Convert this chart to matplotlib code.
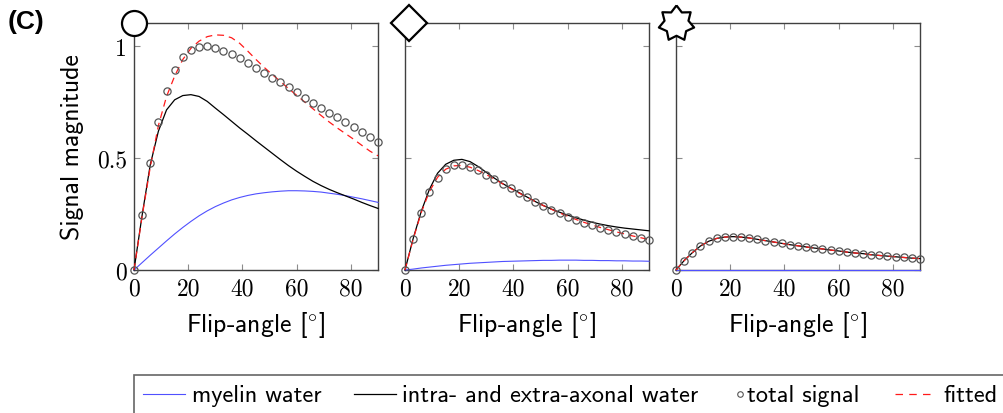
import matplotlib
matplotlib.use("Agg")
import matplotlib.pyplot as plt
from matplotlib.lines import Line2D
from matplotlib.patches import Rectangle
import numpy as np

plt.rcParams['mathtext.fontset'] = 'cm'

# ---------------- data ----------------
flip_angle = list(range(0, 91, 3))  # degrees, 31 samples
x_ticks = [0, 20, 40, 60, 80]
y_ticks = [0, 0.5, 1]
y_ticklabels = ['0', '0.5', '1']

# Panel 1 (circle)
p1_myelin = [0.000, 0.033, 0.066, 0.098, 0.130, 0.161, 0.190, 0.217, 0.242, 0.264,
             0.283, 0.299, 0.313, 0.324, 0.333, 0.340, 0.345, 0.349, 0.352, 0.354,
             0.354, 0.353, 0.351, 0.348, 0.343, 0.338, 0.332, 0.325, 0.318, 0.310, 0.302]
p1_axonal = [0.000, 0.245, 0.470, 0.620, 0.715, 0.760, 0.779, 0.783, 0.775, 0.753,
             0.723, 0.694, 0.664, 0.634, 0.606, 0.577, 0.549, 0.521, 0.493, 0.466,
             0.441, 0.418, 0.396, 0.377, 0.360, 0.345, 0.331, 0.317, 0.302, 0.288, 0.275]
p1_total = [0.000, 0.247, 0.476, 0.661, 0.798, 0.893, 0.949, 0.983, 0.997, 0.999,
            0.991, 0.979, 0.963, 0.945, 0.924, 0.903, 0.881, 0.859, 0.838, 0.815,
            0.793, 0.769, 0.747, 0.725, 0.702, 0.682, 0.659, 0.637, 0.615, 0.594, 0.571]
p1_fitted = [0.000, 0.240, 0.460, 0.645, 0.775, 0.866, 0.940, 0.990, 1.022, 1.042,
             1.050, 1.048, 1.037, 1.012, 0.977, 0.940, 0.905, 0.873, 0.842, 0.810,
             0.780, 0.750, 0.720, 0.690, 0.661, 0.634, 0.609, 0.584, 0.557, 0.531, 0.510]

# Panel 2 (diamond)
p2_myelin = [0.000, 0.004, 0.009, 0.013, 0.017, 0.021, 0.024, 0.027, 0.030, 0.032,
             0.034, 0.036, 0.038, 0.039, 0.040, 0.041, 0.042, 0.043, 0.043, 0.044,
             0.044, 0.044, 0.043, 0.043, 0.042, 0.042, 0.041, 0.041, 0.040, 0.040, 0.039]
p2_axonal = [0.000, 0.140, 0.262, 0.360, 0.432, 0.472, 0.490, 0.494, 0.484, 0.462,
             0.436, 0.410, 0.386, 0.366, 0.346, 0.326, 0.306, 0.288, 0.272, 0.258,
             0.245, 0.233, 0.223, 0.213, 0.205, 0.198, 0.192, 0.187, 0.183, 0.179, 0.175]
p2_total = [0.000, 0.137, 0.256, 0.349, 0.413, 0.450, 0.467, 0.470, 0.461, 0.446,
            0.426, 0.406, 0.385, 0.364, 0.343, 0.324, 0.305, 0.287, 0.270, 0.254,
            0.238, 0.223, 0.211, 0.199, 0.189, 0.178, 0.169, 0.160, 0.152, 0.143, 0.135]
p2_fitted = [0.000, 0.137, 0.257, 0.350, 0.414, 0.450, 0.465, 0.467, 0.459, 0.444,
             0.426, 0.406, 0.385, 0.364, 0.344, 0.325, 0.306, 0.288, 0.271, 0.255,
             0.240, 0.226, 0.213, 0.201, 0.190, 0.180, 0.170, 0.161, 0.152, 0.144, 0.136]

# Panel 3 (star)
p3_myelin = [0.0] * 31
p3_axonal = [0.000, 0.042, 0.077, 0.107, 0.128, 0.141, 0.147, 0.149, 0.147, 0.143,
             0.137, 0.131, 0.125, 0.119, 0.113, 0.108, 0.103, 0.098, 0.094, 0.089,
             0.085, 0.080, 0.076, 0.073, 0.068, 0.065, 0.062, 0.059, 0.056, 0.053, 0.051]
p3_total = [0.000, 0.042, 0.077, 0.107, 0.128, 0.141, 0.147, 0.149, 0.147, 0.143,
            0.137, 0.131, 0.125, 0.119, 0.113, 0.108, 0.103, 0.098, 0.094, 0.089,
            0.085, 0.080, 0.076, 0.073, 0.068, 0.065, 0.062, 0.059, 0.056, 0.053, 0.051]
p3_fitted = [0.000, 0.042, 0.077, 0.107, 0.128, 0.141, 0.147, 0.149, 0.147, 0.143,
             0.137, 0.131, 0.125, 0.119, 0.113, 0.108, 0.103, 0.098, 0.094, 0.089,
             0.085, 0.080, 0.076, 0.073, 0.068, 0.065, 0.062, 0.059, 0.056, 0.053, 0.051]

legend_labels = ['myelin water', 'intra- and extra-axonal water', 'total signal', 'fitted']
x_label = 'Flip-angle [$^{\\circ}$]'
y_label = 'Signal magnitude'
panel_tag = '(C)'

# ---------------- style ----------------
SANS = ['cmss10', 'DejaVu Sans']
SERIF = ['cmr10', 'DejaVu Serif']
BLUE = '#5050ff'
RED = '#ff1a1a'
MK_EDGE = '#555555'

# 7-pointed star marker with short points
_ang = np.pi / 2 + np.arange(14) * np.pi / 7
_rad = np.where(np.arange(14) % 2 == 0, 1.0, 0.68)
star7 = list(zip(_rad * np.cos(_ang), _rad * np.sin(_ang)))
star7.append(star7[0])

panels = [
    (p1_myelin, p1_axonal, p1_total, p1_fitted, 'o', 18.0, 0.0),
    (p2_myelin, p2_axonal, p2_total, p2_fitted, 'D', 18.5, 0.016),
    (p3_myelin, p3_axonal, p3_total, p3_fitted, star7, 26.0, 0.0),
]

W, H = 1004, 414
fig = plt.figure(figsize=(W / 100, H / 100), dpi=100)

def fx(px):
    return px / W

def fy(py):
    return 1 - py / H

lefts = [134, 405, 676]
ax_w, top_px, bot_px = 244, 24, 271

for i, (my, axw, tot, fit, mk, mks, mdx) in enumerate(panels):
    ax = fig.add_axes([fx(lefts[i]), fy(bot_px), ax_w / W, (bot_px - top_px) / H])
    ax.plot(flip_angle, my, color=BLUE, lw=0.8, clip_on=False, zorder=3)
    ax.plot(flip_angle, axw, color='black', lw=0.9, clip_on=False, zorder=3)
    ax.plot(flip_angle, fit, color=RED, lw=0.9, ls=(0, (5.5, 4)), clip_on=False, zorder=4)
    ax.plot(flip_angle, tot, ls='none', marker='o', ms=5.2, mfc='none', mec=MK_EDGE,
            mew=0.9, clip_on=False, zorder=5)
    ax.set_xlim(0, 90)
    ax.set_ylim(0, 1.103)
    ax.set_xticks(x_ticks)
    ax.set_yticks(y_ticks)
    ax.set_xticklabels([str(t) for t in x_ticks], fontfamily=SERIF, fontsize=17)
    if i == 0:
        ax.set_yticklabels(y_ticklabels, fontfamily=SERIF, fontsize=17)
        ax.set_ylabel(y_label, fontfamily=SANS, fontsize=18.5, labelpad=9)
    else:
        ax.set_yticklabels([])
    ax.set_xlabel(x_label, fontfamily=SANS, fontsize=18.5, labelpad=7)
    ax.tick_params(direction='in', top=True, right=True, length=4, width=0.8,
                   color='0.55', pad=5)
    for s in ax.spines.values():
        s.set_color('0.25')
        s.set_linewidth(1.0)
    # panel symbol at top-left corner
    ax.plot([mdx], [1.0], marker=mk, ms=mks, mfc='white', mec='black', mew=1.6,
            transform=ax.transAxes, clip_on=False, zorder=10)

fig.text(fx(8), fy(22), panel_tag, fontfamily=['Liberation Sans', 'DejaVu Sans'],
         fontweight='bold', fontsize=19, va='center', ha='left')

# ---------------- legend (one row, laid out like the pgfplots legend) ----------------
fig.add_artist(Rectangle((fx(134), fy(420)), fx(1020) - fx(134), fy(376) - fy(420),
                         transform=fig.transFigure, fill=False, edgecolor='0.4',
                         linewidth=1.2, clip_on=False))
line_y = fy(394.5)
text_y = fy(402)
# myelin water
fig.add_artist(Line2D([fx(142.5), fx(185)], [line_y, line_y], color=BLUE, lw=0.8,
                      transform=fig.transFigure))
fig.text(fx(192), text_y, legend_labels[0], fontfamily=SANS, fontsize=17.5, va='baseline')
# intra- and extra-axonal water
fig.add_artist(Line2D([fx(354), fx(396)], [line_y, line_y], color='black', lw=0.9,
                      transform=fig.transFigure))
fig.text(fx(402), text_y, legend_labels[1], fontfamily=SANS, fontsize=17.5, va='baseline')
# total signal
fig.add_artist(Line2D([fx(740)], [line_y], ls='none', marker='o', ms=4, mfc='none',
                      mec=MK_EDGE, mew=0.8, transform=fig.transFigure))
fig.text(fx(747), text_y, legend_labels[2], fontfamily=SANS, fontsize=17.5, va='baseline')
# fitted
fig.add_artist(Line2D([fx(895), fx(936)], [line_y, line_y], color=RED, lw=0.9,
                      ls=(0, (6.0, 5.0)), transform=fig.transFigure))
fig.text(fx(943), text_y, legend_labels[3], fontfamily=SANS, fontsize=17.5, va='baseline')

fig.savefig('out.png', dpi=100)
